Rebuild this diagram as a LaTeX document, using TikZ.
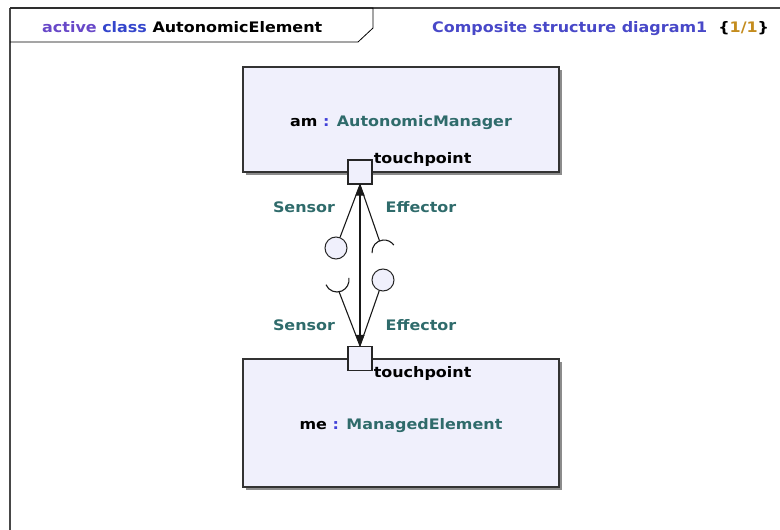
\documentclass[tikz,border=0pt]{standalone}
\usepackage{fontspec}
\setmainfont{DejaVu Sans}[FakeStretch=1.1]
\usetikzlibrary{positioning, arrows.meta, calc, shadows}

\definecolor{partfill}{RGB}{240,240,252}
\definecolor{framegray}{RGB}{72,72,72}
\definecolor{kwpurple}{RGB}{104,72,200}
\definecolor{kwblue}{RGB}{52,70,204}
\definecolor{diagblue}{RGB}{72,72,200}
\definecolor{typeteal}{RGB}{47,107,107}
\definecolor{colonblue}{RGB}{64,64,216}
\definecolor{pagegold}{RGB}{196,140,30}

\begin{document}
\begin{tikzpicture}[
		x=1pt, y=-1pt,
		>={Triangle[width=9pt,length=11pt]},
		font=\fontsize{14.5pt}{17pt}\selectfont\bfseries,
		part/.style={draw=black!80, line width=1.4pt, fill=partfill, minimum width=316pt, minimum height=105pt, align=center,
			text height=17pt, text depth=3.5pt,
			drop shadow={shadow xshift=2.5pt, shadow yshift=-2.5pt, fill=black!45, opacity=1}},
		port/.style={draw=black!85, line width=1.2pt, fill=partfill, minimum size=24pt, inner sep=0pt},
		ball/.style={circle, draw=black!85, line width=1pt, fill=partfill, minimum size=22pt, inner sep=0pt},
		conn/.style={draw=black!90, line width=1.1pt},
		iface/.style={text=typeteal, inner sep=1pt}
		]
		\useasboundingbox (0,0) rectangle (780,530);
		
		% 1. Frame and header tab
		\draw[framegray, line width=2.2pt] (10,8) -- (780,8);
		\draw[framegray, line width=2.2pt] (10,8) -- (10,530);
		\draw[line width=0.8pt] (10,8) -- (373,8) -- (373,28) -- (358,42) -- (10,42);
		\node[anchor=base west, inner sep=0pt] (title) at (42,32) {{\color{kwpurple}active} {\color{kwblue}class} AutonomicElement};
		\node[anchor=base west, inner sep=0pt] (diagname) at (432,32) {{\color{diagblue}Composite structure diagram1}\ \ \{{\color{pagegold}1/1}\}};
		
		% 2. Parts
		\node[part] (am) at (401,119.5) {am {\color{colonblue}:} {\color{typeteal}AutonomicManager}};
		\node[part, minimum height=128pt] (me) at (401,423) {me {\color{colonblue}:} {\color{typeteal}ManagedElement}};
		
		% 3. Ports
		\node[port] (amport) at (360,172) {};
		\node[port] (meport) at (360,358.5) {};
		\node[anchor=west, inner sep=1pt] (amtp) at (amport.north east) {touchpoint};
		\node[anchor=west, inner sep=1pt, yshift=-2pt] (metp) at (meport.south east) {touchpoint};
		
		% 4. Provided / required interfaces
		\node[ball] (sball) at (336,248) {};
		\node[ball] (eball) at (383,280) {};
		\coordinate (ssock) at (337,280);
		\coordinate (esock) at (384,252);
		\coordinate (ssocktip) at ([shift={(-80:12pt)}]ssock);
		\coordinate (esocktip) at ([shift={(112:12pt)}]esock);
		\draw[conn] ([shift={(203:12pt)}]ssock) arc[start angle=203, end angle=370, radius=12pt];
		\draw[conn] ([shift={(185:12pt)}]esock) arc[start angle=185, end angle=35, radius=12pt];
		
		\node[iface] (sensup) at (304,207) {Sensor};
		\node[iface] (effup) at (421,207) {Effector};
		\node[iface] (senslow) at (304,325) {Sensor};
		\node[iface] (efflow) at (421,325) {Effector};
		
		% 5. Connectors
		\draw[conn, <->] (amport) -- (meport);
		\draw[conn] (amport.south) -- (sball);
		\draw[conn] (amport.south) -- (esocktip);
		\draw[conn] (ssocktip) -- (meport.north);
		\draw[conn] (eball) -- (meport.north);
		
	\end{tikzpicture}
\end{document}
